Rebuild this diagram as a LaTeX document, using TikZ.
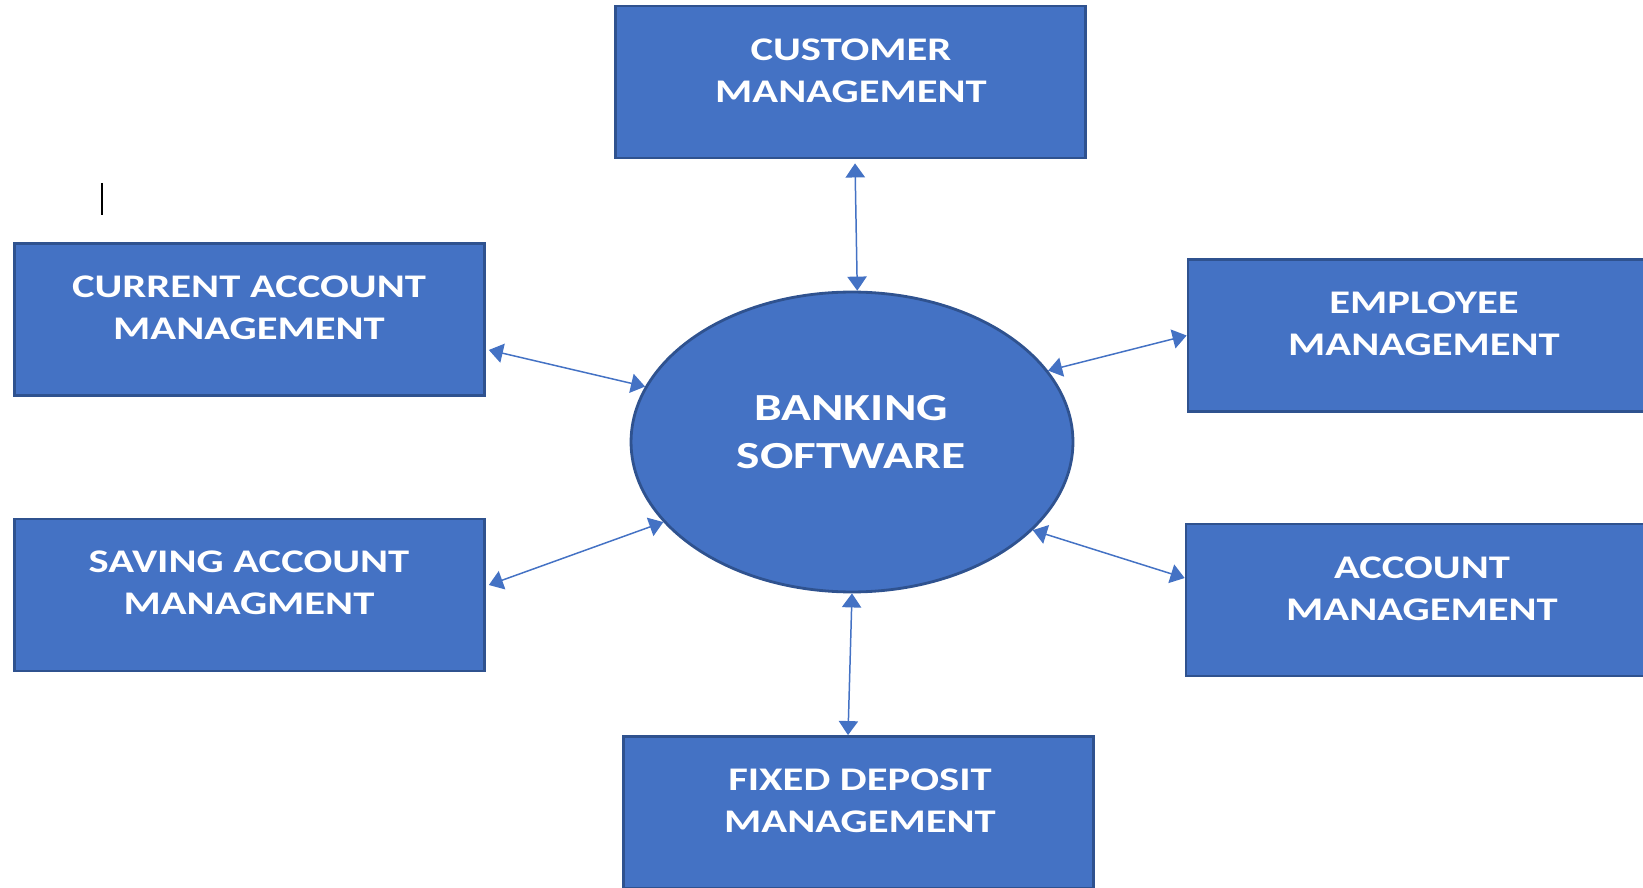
\documentclass[tikz,border=0pt]{standalone}
\usepackage{fontspec}
\newfontfamily\diagfont[FakeStretch=1.29]{Carlito}
\usetikzlibrary{arrows.meta,shapes.geometric}
\definecolor{boxblue}{HTML}{4472C4}
\definecolor{edgeblue}{HTML}{2F528F}

\begin{document}
\begin{tikzpicture}[x=0.02cm,y=-0.02cm,
        module/.style={draw=edgeblue,line width=1.6pt,fill=boxblue,rectangle,minimum width=9.4cm,minimum height=3.04cm,inner sep=0pt},
        hub/.style={draw=edgeblue,line width=1.6pt,fill=boxblue,ellipse,minimum width=8.84cm,minimum height=6cm,inner sep=0pt},
        modtext/.style={text=white,align=center,inner sep=0pt,font=\diagfont\bfseries\fontsize{18.8}{24}\selectfont},
        hubtext/.style={modtext,font=\diagfont\bfseries\fontsize{21.8}{27.3}\selectfont},
        link/.style={draw=boxblue,line width=0.85pt,{Triangle[length=8pt,width=11pt]}-{Triangle[length=8pt,width=11pt]}}]
        \useasboundingbox (0,0) rectangle (1643,888);
        \clip (0,0) rectangle (1643,888);
        %% Centre
        \node[hub] (bank) at (852,442) {};
        \node[hubtext] (banktxt) at (851,432) {BANKING\\SOFTWARE};
        %% Modules
        \node[module] (cust) at (850.5,82) {};
        \node[modtext] (custtxt) at (851,71) {CUSTOMER\\MANAGEMENT};
        \node[module] (cur) at (249.5,319.5) {};
        \node[modtext] (curtxt) at (249,307.5) {CURRENT ACCOUNT\\MANAGEMENT};
        \node[module] (sav) at (249.5,595) {};
        \node[modtext] (savtxt) at (249,583) {SAVING ACCOUNT\\MANAGMENT};
        \node[module] (emp) at (1423,335.5) {};
        \node[modtext] (emptxt) at (1424,324) {EMPLOYEE\\MANAGEMENT};
        \node[module] (acc) at (1421,600) {};
        \node[modtext] (acctxt) at (1422,589) {ACCOUNT\\MANAGEMENT};
        \node[module] (fix) at (858.5,812.5) {};
        \node[modtext] (fixtxt) at (860,801) {FIXED DEPOSIT\\MANAGEMENT};
        %% Links
        \draw[link] ([xshift=0.09cm,yshift=-0.08cm]cust.south) -- (bank.88);
        \draw[link] ([xshift=0.06cm,yshift=-0.61cm]cur.east) -- (bank.165);
        \draw[link] ([xshift=0.06cm,yshift=0.2cm]sav.east) -- (bank.203);
        \draw[link] (emp.west) -- (bank.20);
        \draw[link] ([yshift=0.44cm]acc.west) -- (bank.-26);
        \draw[link] ([xshift=-0.21cm]fix.north) -- (bank.south);
        %% Text cursor
        \draw[line width=1.1pt] (102,183) -- (102,215);
\end{tikzpicture}
\end{document}
